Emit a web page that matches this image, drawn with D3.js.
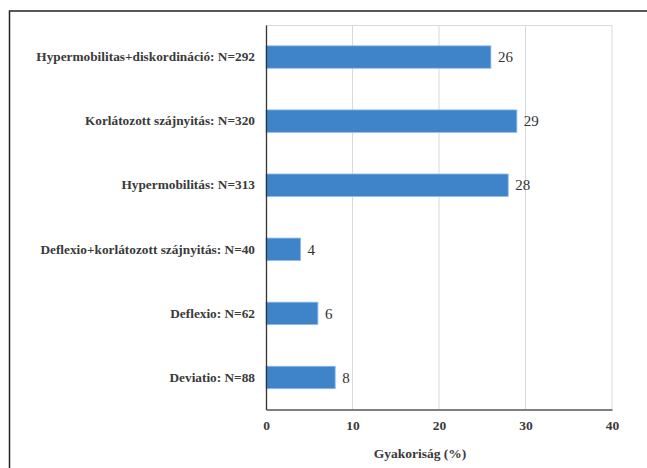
<!DOCTYPE html>
<html>
<head>
<meta charset="utf-8">
<script src="https://cdn.jsdelivr.net/npm/d3@7"></script>
<style>
  body { margin: 0; background: #fff; }
  svg { display: block; }
</style>
</head>
<body>
<svg id="chart" width="647" height="468"></svg>
<script>
var categories = [
    'Hypermobilitas+diskordináció: N=292',
    'Korlátozott szájnyitás: N=320',
    'Hypermobilitás: N=313',
    'Deflexio+korlátozott szájnyitás: N=40',
    'Deflexio: N=62',
    'Deviatio: N=88'
];
var values = [26, 29, 28, 4, 6, 8];
var xTicks = [0, 10, 20, 30, 40];
var xTitle = 'Gyakoriság (%)';

var serif = '"Liberation Serif"';
var svg = d3.select('#chart');

// outer frame, runs off the right and bottom edge
svg.append('rect')
    .attr('x', 9.5)
    .attr('y', 11)
    .attr('width', 700)
    .attr('height', 500)
    .attr('fill', 'none')
    .attr('stroke', '#222')
    .attr('stroke-width', 1.5);

var plotLeft = 266, plotRight = 612, plotTop = 25, plotBottom = 409.5;

var x = d3.scaleLinear().domain([0, 40]).range([plotLeft, plotRight]);
var y = d3.scaleBand().domain(categories).range([plotTop, plotBottom]).paddingInner(0.65).paddingOuter(0.325);

// gridlines
svg.append('g').selectAll('line')
    .data(xTicks.slice(1))
    .enter()
    .append('line')
    .attr('x1', function(d) { return x(d); })
    .attr('x2', function(d) { return x(d); })
    .attr('y1', plotTop)
    .attr('y2', plotBottom)
    .attr('stroke', '#d9d9d9')
    .attr('stroke-width', 1);

svg.append('line')
    .attr('x1', plotLeft).attr('x2', plotRight)
    .attr('y1', plotTop + 0.5).attr('y2', plotTop + 0.5)
    .attr('stroke', '#d9d9d9');

// bars
svg.append('g').selectAll('rect')
    .data(values)
    .enter()
    .append('rect')
    .attr('x', plotLeft)
    .attr('y', function(d, i) { return y(categories[i]); })
    .attr('width', function(d) { return x(d) - plotLeft; })
    .attr('height', y.bandwidth())
    .attr('fill', '#3f84c9')
    .attr('stroke', '#8fbbe8')
    .attr('stroke-width', 0.8);

// value labels
svg.append('g').selectAll('text')
    .data(values)
    .enter()
    .append('text')
    .attr('x', function(d) { return x(d) + 7; })
    .attr('y', function(d, i) { return y(categories[i]) + y.bandwidth() / 2; })
    .attr('dy', '0.35em')
    .style('font-family', serif)
    .style('font-size', '15px')
    .style('fill', '#333')
    .text(function(d) { return d; });

// y axis
var yAxis = svg.append('g')
    .attr('transform', 'translate(' + plotLeft + ',0)')
    .call(d3.axisLeft(y).tickSize(0).tickPadding(11));
yAxis.attr('font-family', null).attr('font-size', null);
yAxis.select('.domain').attr('stroke', '#333').attr('stroke-width', 1.3);
yAxis.selectAll('text')
    .style('font-family', serif)
    .style('font-size', '13.3px')
    .style('font-weight', 'bold')
    .style('fill', '#3a3a3a');

// x axis
var xAxis = svg.append('g')
    .attr('transform', 'translate(0,' + plotBottom + ')')
    .call(d3.axisBottom(x).tickValues(xTicks).tickSize(0).tickPadding(11));
xAxis.attr('font-family', null).attr('font-size', null);
xAxis.select('.domain').attr('stroke', '#555').attr('stroke-width', 1.3);
xAxis.selectAll('text')
    .style('font-family', serif)
    .style('font-size', '13.5px')
    .style('font-weight', 'bold')
    .style('fill', '#3a3a3a');

svg.append('text')
    .attr('x', 420)
    .attr('y', 458)
    .attr('text-anchor', 'middle')
    .style('font-family', serif)
    .style('font-size', '13.5px')
    .style('font-weight', 'bold')
    .style('fill', '#3a3a3a')
    .text(xTitle);
</script>
</body>
</html>
